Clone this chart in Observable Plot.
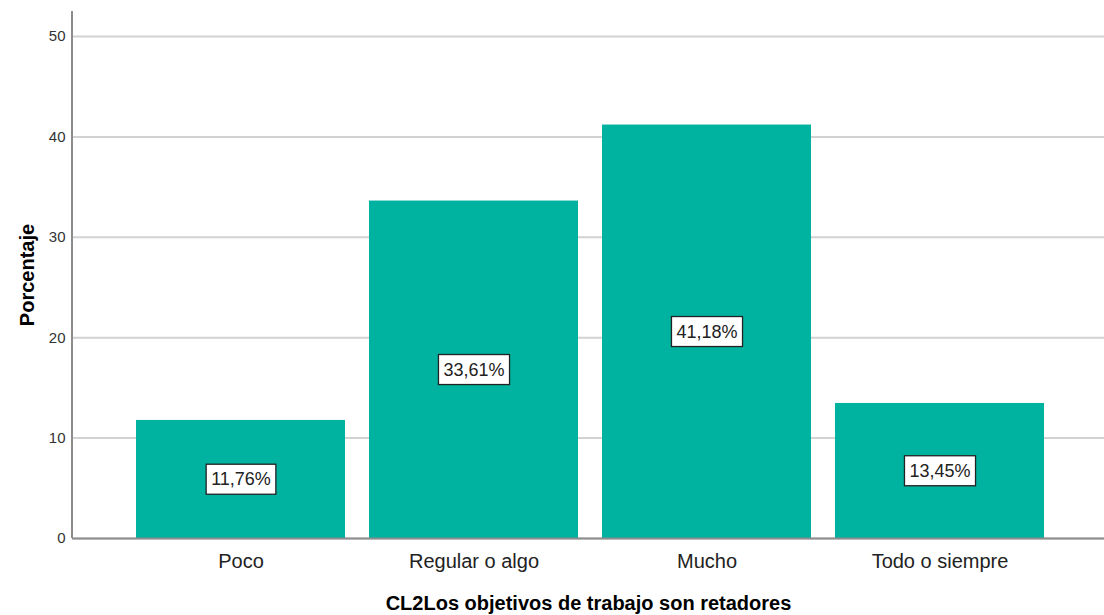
<!DOCTYPE html>
<html><head><meta charset="utf-8">
<script src="https://cdn.jsdelivr.net/npm/d3@7"></script>
<script src="https://cdn.jsdelivr.net/npm/@observablehq/plot@0.6"></script>
<style>body{margin:0;background:#fff}#chart svg{display:block}</style>
</head><body><div id="chart"></div>
<script>
const categories = ["Poco", "Regular o algo", "Mucho", "Todo o siempre"];
const percentages = [11.76, 33.61, 41.18, 13.45];
const valueLabels = ["11,76%", "33,61%", "41,18%", "13,45%"];
const yTicks = [0, 10, 20, 30, 40, 50];
const xTitle = "CL2Los objetivos de trabajo son retadores";
const yTitle = "Porcentaje";

const data = categories.map((c, i) => ({cat: c, pct: percentages[i], label: valueLabels[i]}));
const font = "'Liberation Sans', Arial, sans-serif";

const chart = Plot.plot({
  width: 1104, height: 615,
  marginLeft: 72, marginRight: 0, marginTop: 11, marginBottom: 77,
  style: {fontFamily: font, background: "#fff"},
  x: {domain: categories, paddingInner: 0.103, paddingOuter: 0.266, align: 0.516, label: null},
  y: {domain: [0, 52.49], label: null},
  marks: [
    Plot.gridY(yTicks, {stroke: "#d2d2d2", strokeOpacity: 1, strokeWidth: 2}),
    Plot.barY(data, {x: "cat", y: "pct", fill: "#00b2a0"}),
    Plot.ruleY([0], {stroke: "#8c8c8c", strokeWidth: 2}),
    Plot.axisY(yTicks, {tickSize: 0, tickPadding: 7, fontSize: 15, fill: "#333", label: null}),
    Plot.axisX({tickSize: 0, tickPadding: 15, fontSize: 20, fill: "#222", label: null}),
    Plot.text(data, {x: "cat", y: d => d.pct / 2, text: "label", fontSize: 18, fill: "#222"}),
    Plot.text([xTitle], {frameAnchor: "bottom", lineAnchor: "middle", dy: 65, fontSize: 20, fontWeight: "bold", fill: "#000"}),
    Plot.text([yTitle], {frameAnchor: "left", textAnchor: "middle", lineAnchor: "middle", dx: -45, rotate: -90, fontSize: 20, fontWeight: "bold", fill: "#000"})
  ]
});
document.getElementById("chart").appendChild(chart);

// left axis line drawn from the y scale
const ys = chart.scale("y");
const ns = "http://www.w3.org/2000/svg";
const axisLine = document.createElementNS(ns, "line");
axisLine.setAttribute("x1", 72); axisLine.setAttribute("x2", 72);
axisLine.setAttribute("y1", ys.apply(ys.domain[1])); axisLine.setAttribute("y2", ys.apply(0));
axisLine.setAttribute("stroke", "#8c8c8c"); axisLine.setAttribute("stroke-width", 2);
chart.appendChild(axisLine);

// white boxes behind value labels
chart.querySelectorAll("text").forEach(t => {
  if (!valueLabels.includes(t.textContent)) return;
  const b = t.getBBox();
  const r = document.createElementNS(ns, "rect");
  const tr = t.getAttribute("transform");
  if (tr) r.setAttribute("transform", tr);
  r.setAttribute("x", b.x - 5); r.setAttribute("y", b.y - 5);
  r.setAttribute("width", b.width + 10); r.setAttribute("height", b.height + 10);
  r.setAttribute("fill", "#fff"); r.setAttribute("stroke", "#222"); r.setAttribute("stroke-width", 1.3);
  t.parentNode.insertBefore(r, t);
});
</script>
</body></html>
